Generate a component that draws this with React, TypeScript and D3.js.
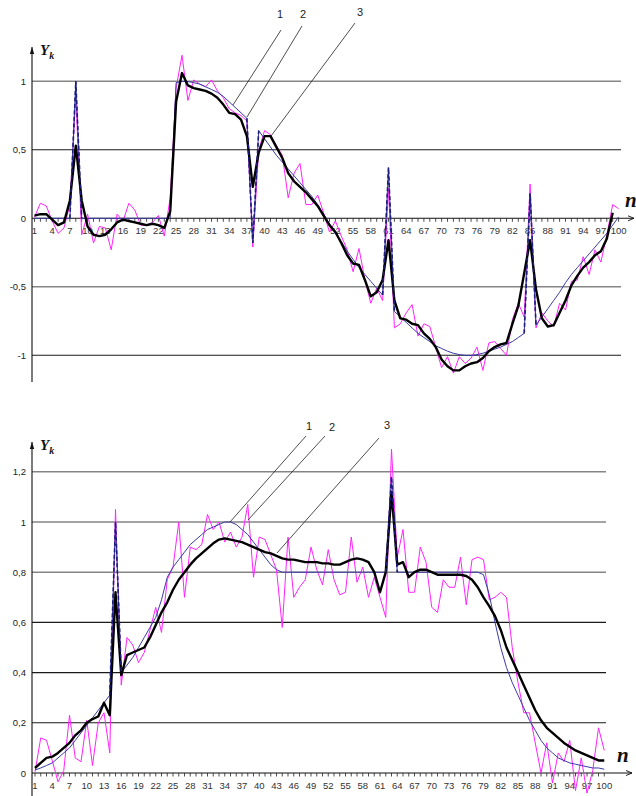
import React from "react";
import * as d3 from "d3";

// sample index n = 1..100
const nIndex: number[] = d3.range(1, 101);
const xTickLabels = [1, 4, 7, 10, 13, 16, 19, 22, 25, 28, 31, 34, 37, 40, 43, 46, 49, 52, 55, 58, 61, 64, 67, 70, 73, 76, 79, 82, 85, 88, 91, 94, 97, 100];

// ---------- upper chart ----------
const topGrid = [1, 0.5, -0.5, -1];
const topYTicks = [1, 0.5, 0, -0.5, -1];
const topYTickText = ["1", "0,5", "0", "-0,5", "-1"];

// 1 — reference signal
const topTrue: (number | null)[] = [
  0, 0, 0, 0, 0, 0, 0, 1.0, 0, 0,
  0, 0, 0, 0, 0, 0, 0, 0, 0, 0,
  0, 0, 0, 0, 0.99, 1.0, 0.998, 0.99, 0.98, 0.96,
  0.94, 0.92, 0.89, 0.85, 0.81, 0.77, 0.73, -0.18, 0.64, 0.58,
  0.52, 0.46, 0.41, 0.36, 0.31, 0.26, 0.21, 0.16, 0.1, 0.03,
  -0.04, -0.11, -0.17, -0.24, -0.3, -0.36, -0.41, -0.46, -0.51, -0.56,
  0.37, -0.68, -0.72, -0.76, -0.8, -0.84, -0.87, -0.9, -0.93, -0.95,
  -0.97, -0.985, -0.995, -1.0, -1.0, -0.995, -0.985, -0.97, -0.955, -0.94,
  -0.92, -0.9, -0.87, -0.84, 0.18, -0.78, -0.72, -0.66, -0.6, -0.54,
  -0.47, -0.41, -0.36, -0.31, -0.26, -0.21, -0.16, -0.11, -0.05, 0.01,
];
// 2 — noisy observation
const topNoisy: (number | null)[] = [
  0.01, 0.11, 0.09, -0.02, -0.11, -0.07, 0.1, 0.9, -0.12, 0.03,
  -0.18, -0.06, -0.07, -0.23, 0.03, -0.02, 0.11, 0.06, -0.05, -0.05,
  -0.03, 0.02, -0.13, 0.15, 0.95, 1.19, 0.86, 1.01, 0.98, 0.96,
  1.01, 0.93, 0.88, 0.8, 0.77, 0.75, 0.71, -0.21, 0.5, 0.64,
  0.61, 0.53, 0.46, 0.15, 0.33, 0.4, 0.1, 0.1, 0.17, 0.04,
  -0.1, -0.02, -0.13, -0.23, -0.39, -0.22, -0.45, -0.62, -0.51, -0.6,
  0.22, -0.8, -0.77, -0.69, -0.63, -0.86, -0.77, -0.79, -0.94, -1.09,
  -1.01, -1.13, -1.01, -1.06, -1.02, -0.94, -1.11, -0.91, -0.9, -0.95,
  -1.0, -0.74, -0.62, -0.72, 0.25, -0.8, -0.69, -0.75, -0.79, -0.62,
  -0.67, -0.46, -0.45, -0.28, -0.41, -0.23, -0.32, -0.12, 0.1, 0.07,
];
// 3 — filtered estimate
const topFiltered: (number | null)[] = [
  0.02, 0.03, 0.03, -0.01, -0.05, -0.03, 0.13, 0.53, 0.13, -0.06,
  -0.12, -0.13, -0.12, -0.08, -0.03, -0.01, -0.02, -0.03, -0.04, -0.05,
  -0.04, -0.05, -0.07, 0.05, 0.85, 1.06, 0.97, 0.95, 0.94, 0.93,
  0.91, 0.88, 0.83, 0.77, 0.76, 0.72, 0.6, 0.23, 0.48, 0.6,
  0.6, 0.52, 0.44, 0.33, 0.27, 0.23, 0.19, 0.14, 0.09, 0.02,
  -0.05, -0.1, -0.18, -0.27, -0.33, -0.34, -0.45, -0.57, -0.54, -0.45,
  -0.16, -0.6, -0.73, -0.74, -0.77, -0.78, -0.84, -0.88, -0.94, -1.03,
  -1.08, -1.11, -1.11, -1.08, -1.06, -1.05, -1.02, -0.97, -0.94, -0.92,
  -0.91, -0.77, -0.64, -0.4, -0.16, -0.52, -0.73, -0.79, -0.78, -0.69,
  -0.6, -0.49, -0.42, -0.36, -0.32, -0.27, -0.24, -0.15, 0.04, null,
];
// dashed overlay at the impulses
const topSpikes: (number | null)[] = [
  null, null, null, null, null, null, 0, 1.0, 0, null,
  null, null, null, null, null, null, null, null, null, null,
  null, null, null, null, null, null, null, null, null, null,
  null, null, null, null, null, null, 0.73, -0.18, 0.64, null,
  null, null, null, null, null, null, null, null, null, null,
  null, null, null, null, null, null, null, null, null, -0.56,
  0.37, -0.68, null, null, null, null, null, null, null, null,
  null, null, null, null, null, null, null, null, null, null,
  null, null, null, -0.84, 0.18, -0.78, null, null, null, null,
  null, null, null, null, null, null, null, null, null, null,
];

// ---------- lower chart ----------
const botGrid = [1.2, 1, 0.8, 0.6, 0.4, 0.2];
const botYTicks = [1.2, 1, 0.8, 0.6, 0.4, 0.2, 0];
const botYTickText = ["1,2", "1", "0,8", "0,6", "0,4", "0,2", "0"];

const botTrue: (number | null)[] = [
  0.012, 0.02, 0.03, 0.04, 0.06, 0.08, 0.1, 0.13, 0.16, 0.19,
  0.22, 0.25, 0.28, 0.31, 1.0, 0.4, 0.43, 0.46, 0.5, 0.54,
  0.58, 0.62, 0.69, 0.78, 0.82, 0.85, 0.88, 0.91, 0.93, 0.95,
  0.97, 0.98, 0.99, 1.0, 1.0, 0.99, 0.97, 0.95, 0.92, 0.89,
  0.86, 0.83, 0.81, 0.8, 0.8, 0.8, 0.8, 0.8, 0.8, 0.8,
  0.8, 0.8, 0.8, 0.8, 0.8, 0.8, 0.8, 0.8, 0.8, 0.8,
  0.8, 0.8, 1.18, 0.8, 0.8, 0.8, 0.8, 0.8, 0.8, 0.8,
  0.8, 0.8, 0.8, 0.8, 0.8, 0.8, 0.8, 0.8, 0.79, 0.71,
  0.6, 0.5, 0.42, 0.36, 0.31, 0.26, 0.21, 0.17, 0.13, 0.1,
  0.08, 0.06, 0.05, 0.04, 0.035, 0.03, 0.025, 0.02, 0.02, 0.015,
];
const botNoisy: (number | null)[] = [
  0.005, 0.14, 0.13, 0.05, -0.035, 0.01, 0.23, 0.06, 0.045, 0.21,
  0.03, 0.2, 0.24, 0.08, 1.05, 0.35, 0.54, 0.51, 0.44, 0.48,
  0.57, 0.66, 0.56, 0.77, 0.82, 1.0, 0.7, 0.9, 0.89, 0.91,
  1.03, 0.97, 1.0, 0.92, 0.96, 0.9, 0.94, 1.07, 0.78, 0.94,
  0.93, 0.87, 0.81, 0.58, 0.94, 0.7, 0.74, 0.77, 0.9, 0.81,
  0.75, 0.89, 0.77, 0.71, 0.72, 0.94, 0.76, 0.82, 0.7, 0.78,
  0.7, 0.62, 1.29, 0.86, 0.97, 0.72, 0.72, 0.9, 0.84, 0.66,
  0.64, 0.77, 0.74, 0.74, 0.86, 0.67, 0.85, 0.86, 0.85, 0.69,
  0.7, 0.72, 0.7, 0.5, 0.36, 0.24, 0.24, 0.12, 0.0, 0.12,
  -0.04, 0.08, 0.045, 0.13, -0.07, 0.06, -0.08, 0.01, 0.18, 0.09,
];
const botFiltered: (number | null)[] = [
  0.02, 0.04, 0.06, 0.065, 0.08, 0.1, 0.12, 0.15, 0.17, 0.2,
  0.215, 0.225, 0.28, 0.23, 0.72, 0.39, 0.47, 0.48, 0.49, 0.5,
  0.54, 0.59, 0.64, 0.68, 0.73, 0.77, 0.8, 0.83, 0.855, 0.875,
  0.895, 0.915, 0.93, 0.935, 0.93, 0.925, 0.92, 0.91, 0.9, 0.89,
  0.88, 0.875, 0.865, 0.855, 0.85, 0.85, 0.845, 0.84, 0.84, 0.84,
  0.835, 0.835, 0.83, 0.83, 0.84, 0.85, 0.855, 0.85, 0.84, 0.8,
  0.72, 0.8, 1.12, 0.83, 0.84, 0.78, 0.8, 0.81, 0.81, 0.8,
  0.79, 0.79, 0.79, 0.79, 0.79, 0.785, 0.77, 0.74, 0.7, 0.665,
  0.625, 0.57, 0.5, 0.45, 0.4, 0.35, 0.3, 0.25, 0.21, 0.18,
  0.16, 0.14, 0.12, 0.105, 0.09, 0.08, 0.07, 0.06, 0.05, 0.05,
];
const botSpikes: (number | null)[] = [
  null, null, null, null, null, null, null, null, null, null,
  null, null, null, 0.31, 1.0, 0.4, null, null, null, null,
  null, null, null, null, null, null, null, null, null, null,
  null, null, null, null, null, null, null, null, null, null,
  null, null, null, null, null, null, null, null, null, null,
  null, null, null, null, null, null, null, null, null, null,
  null, 0.8, 1.18, 0.8, null, null, null, null, null, null,
  null, null, null, null, null, null, null, null, null, null,
  null, null, null, null, null, null, null, null, null, null,
  null, null, null, null, null, null, null, null, null, null,
];

const labelFont = "'Liberation Sans', Arial, sans-serif";
const serif = "'Liberation Serif', 'DejaVu Serif', serif";

type PanelProps = {
  xRange: [number, number];
  yDomain: [number, number];
  yRange: [number, number];
  gridEnd: number;
  arrowEnd: number;
  yAxisTop: number;
  yAxisBottom: number;
  grid: number[];
  grayGrid: number[];
  yTicks: number[];
  yTickText: string[];
  trueS: (number | null)[];
  noisy: (number | null)[];
  filtered: (number | null)[];
  spikes: (number | null)[];
  nPos: [number, number];
  leaders: { x1: number; y1: number; x2: number; y2: number; lx: number; ly: number; t: string }[];
};

function Panel(p: PanelProps) {
  const x = d3.scaleLinear().domain([1, 100]).range(p.xRange);
  const y = d3.scaleLinear().domain(p.yDomain).range(p.yRange);
  const y0 = y(0);
  const mk = (vals: (number | null)[]) =>
    d3
      .line<number | null>()
      .defined((v) => v !== null)
      .x((_, i) => x(nIndex[i]))
      .y((v) => y(v as number))(vals) || "";
  const ax = 32;
  return (
    <g>
      {p.grid.map((g) => {
        const gray = p.grayGrid.includes(g);
        return (
          <line key={"g" + g} x1={ax} x2={p.gridEnd} y1={y(g)} y2={y(g)}
            stroke={gray ? "#858585" : "#1a1a1a"} strokeWidth={gray ? 1.6 : 1.1} />
        );
      })}
      {p.yTicks.map((t, i) => (
        <text key={"yt" + t} x={26} y={y(t) + 3.5} textAnchor="end" fontFamily={labelFont}
          fontSize={9.5} fill="#222">{p.yTickText[i]}</text>
      ))}
      {/* y axis */}
      <line x1={ax} x2={ax} y1={p.yAxisTop} y2={p.yAxisBottom} stroke="#111" strokeWidth={1.1} />
      <path d={`M${ax - 2.2},${p.yAxisTop + 7} L${ax},${p.yAxisTop} L${ax + 2.2},${p.yAxisTop + 7} Z`} fill="#111" />
      {/* x axis */}
      <line x1={ax} x2={p.arrowEnd} y1={y0} y2={y0} stroke="#111" strokeWidth={1.1} />
      <path d={`M${p.arrowEnd - 6},${y0 - 2.5} L${p.arrowEnd},${y0} L${p.arrowEnd - 6},${y0 + 2.5}`} fill="none" stroke="#111" strokeWidth={0.9} />
      {nIndex.map((n) => (
        <line key={"tk" + n} x1={x(n)} x2={x(n)} y1={y0} y2={y0 + 3.5} stroke="#222" strokeWidth={0.8} />
      ))}
      {xTickLabels.map((n) => (
        <text key={"xl" + n} x={x(n)} y={y0 + 16} textAnchor="middle" fontFamily={labelFont}
          fontSize={9.5} fill="#333">{n}</text>
      ))}
      {/* series */}
      <path d={mk(p.noisy)} fill="none" stroke="#ff22ff" strokeWidth={1} strokeLinejoin="round" />
      <path d={mk(p.trueS)} fill="none" stroke="#3a3aa6" strokeWidth={1} strokeLinejoin="round" />
      <path d={mk(p.filtered)} fill="none" stroke="#000" strokeWidth={2.4} strokeLinejoin="round" />
      <path d={mk(p.spikes)} fill="none" stroke="#1c1c7a" strokeWidth={1.6} strokeDasharray="4 2.5" />
      {/* leaders */}
      {p.leaders.map((l) => (
        <g key={"ld" + l.t}>
          <line x1={l.x1} y1={l.y1} x2={l.x2} y2={l.y2} stroke="#222" strokeWidth={0.8} />
          <text x={l.lx} y={l.ly} textAnchor="middle" fontFamily={labelFont} fontSize={11} fill="#222">{l.t}</text>
        </g>
      ))}
      {/* axis titles */}
      <text x={40} y={p.yAxisTop + 8} fontFamily={serif} fontStyle="italic" fontWeight="bold" fontSize={15} fill="#111">
        Y<tspan fontSize={10} dy={4}>k</tspan>
      </text>
      <text x={p.nPos[0]} y={p.nPos[1]} fontFamily={serif} fontStyle="italic" fontWeight="bold" fontSize={21} fill="#111">n</text>
    </g>
  );
}

export default function App() {
  return (
    <div style={{ position: "absolute", left: 0, top: 0 }}>
      <svg width={636} height={796} viewBox="0 0 636 796" style={{ display: "block", background: "#fff" }}>
        <rect width={636} height={796} fill="#fff" />
        <Panel
          xRange={[34.5, 618.6]}
          yDomain={[-1, 1]}
          yRange={[355.3, 81.3]}
          gridEnd={621}
          arrowEnd={634}
          yAxisTop={47}
          yAxisBottom={382}
          grid={topGrid}
          grayGrid={[1, -0.5]}
          yTicks={topYTicks}
          yTickText={topYTickText}
          trueS={topTrue}
          noisy={topNoisy}
          filtered={topFiltered}
          spikes={topSpikes}
          nPos={[625, 207]}
          leaders={[
            { x1: 281, y1: 30, x2: 233, y2: 105, lx: 280, ly: 18, t: "1" },
            { x1: 302, y1: 26, x2: 247, y2: 117, lx: 303, ly: 18, t: "2" },
            { x1: 355, y1: 23, x2: 271, y2: 136, lx: 360, ly: 16, t: "3" },
          ]}
        />
        <Panel
          xRange={[35, 604.25]}
          yDomain={[0, 1.2]}
          yRange={[773, 471.8]}
          gridEnd={606}
          arrowEnd={632}
          yAxisTop={442}
          yAxisBottom={796}
          grid={botGrid}
          grayGrid={[1.2, 1, 0.8]}
          yTicks={botYTicks}
          yTickText={botYTickText}
          trueS={botTrue}
          noisy={botNoisy}
          filtered={botFiltered}
          spikes={botSpikes}
          nPos={[617, 762]}
          leaders={[
            { x1: 306, y1: 436, x2: 230, y2: 522, lx: 309, ly: 430, t: "1" },
            { x1: 325, y1: 436, x2: 248, y2: 520, lx: 332, ly: 431, t: "2" },
            { x1: 379, y1: 438, x2: 277, y2: 553, lx: 387, ly: 429, t: "3" },
          ]}
        />
      </svg>
    </div>
  );
}
